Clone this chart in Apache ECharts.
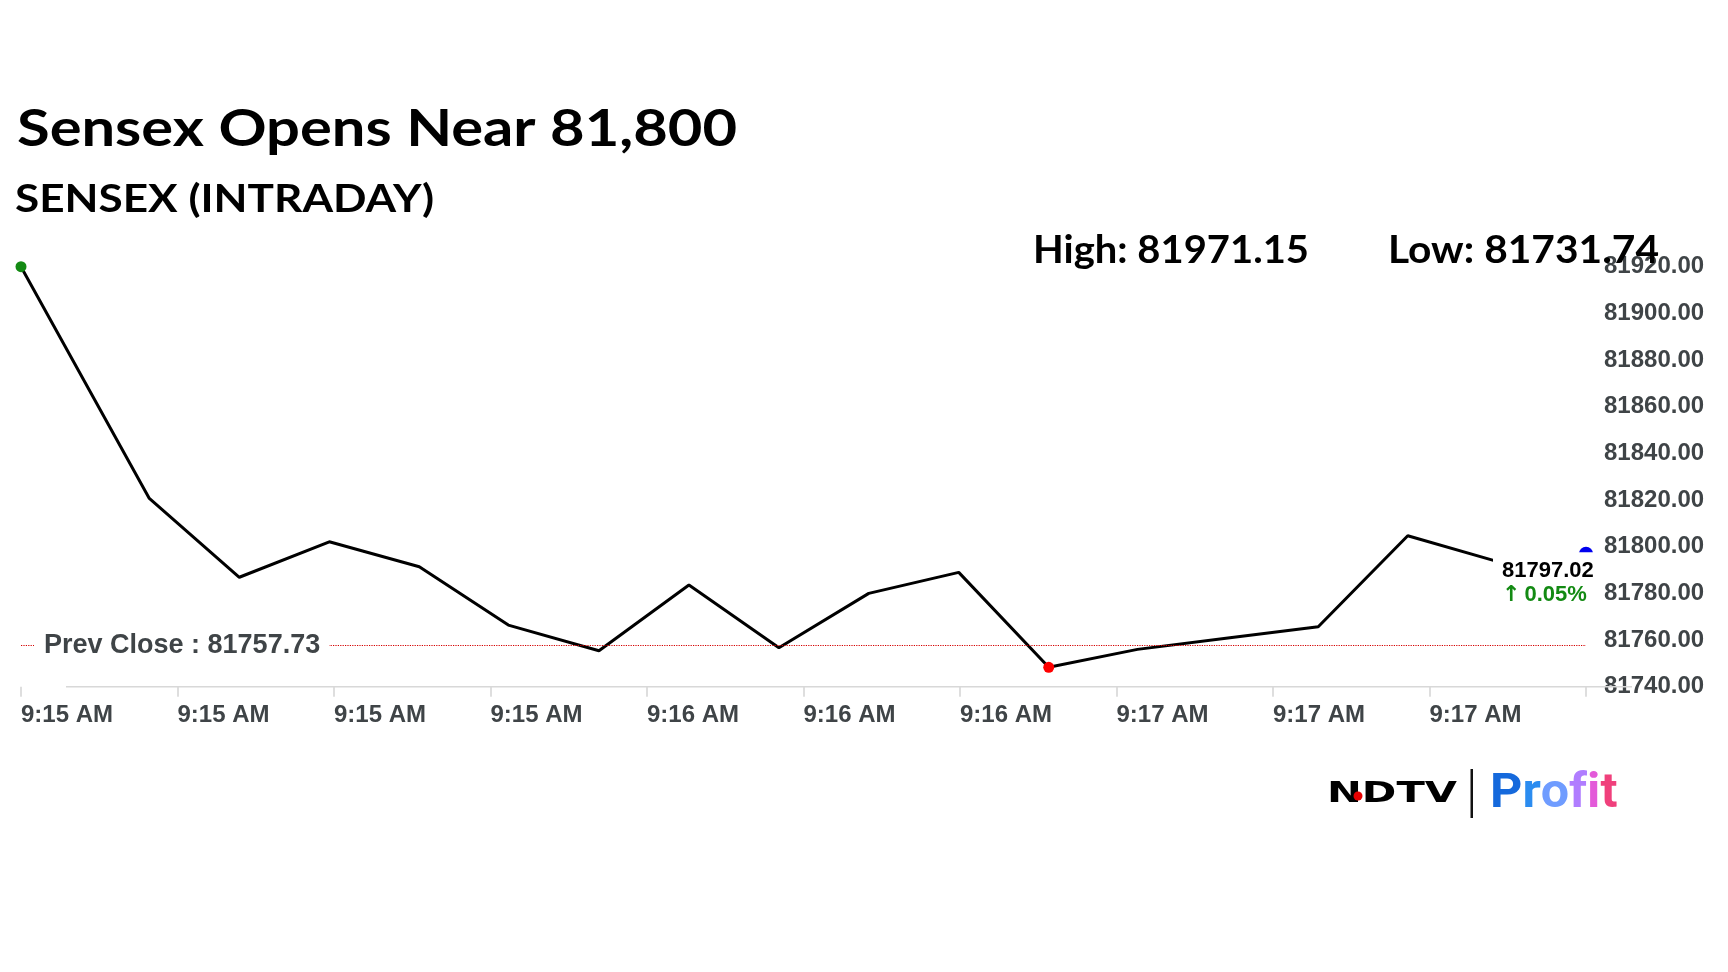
<!DOCTYPE html>
<html><head><meta charset="utf-8">
<script src="https://cdn.jsdelivr.net/npm/echarts@6/dist/echarts.min.js"></script>
<style>html,body{margin:0;padding:0;background:#fff}#c{width:1728px;height:972px}</style>
</head><body><div id="c"></div>
<script>
// ---------- data ----------
const titleText = 'Sensex Opens Near 81,800';
const subtitleText = 'SENSEX (INTRADAY)';
const dayHigh = 81971.15;
const dayLow = 81731.74;
const prevClose = 81757.73;
const tickLabels = ['9:15 AM','9:15 AM','9:15 AM','9:15 AM','9:16 AM','9:16 AM','9:16 AM','9:17 AM','9:17 AM','9:17 AM',''];
// position of each reading along the time axis, in tick units
const pointPos = [0, 0.82, 1.395, 1.97, 2.545, 3.114, 3.693, 4.268, 4.843, 5.417, 5.992, 6.567, 7.134, 7.712, 8.289, 8.861, 9.436, 10];
const values   = [81920.0, 81820.7, 81786.9, 81802.1, 81791.4, 81766.4, 81755.4, 81783.6, 81756.7, 81780.0, 81789.0, 81748.3, 81756.0, 81760.9, 81765.7, 81804.7, 81793.6, 81797.02];
const yMin = 81740, yMax = 81920, yStep = 20;

// ---------- helpers ----------
const mctx = document.createElement('canvas').getContext('2d');
function fit(text, font, target) { mctx.font = font; return target / mctx.measureText(text).width; }

const AX = '"Liberation Sans", Arial, sans-serif';
const labelColor = '#3f4447';
const green = '#138a13';

let lowIdx = 0;
values.forEach((v, i) => { if (v < values[lowIdx]) lowIdx = i; });
const last = values.length - 1;
const pct = (values[last] - prevClose) / prevClose * 100;

const seriesData = pointPos.map((x, i) => {
  const item = { value: [x, values[i]], symbolSize: 0 };
  if (i === 0) { item.symbolSize = 11; item.itemStyle = { color: green }; }
  if (i === lowIdx) { item.symbolSize = 11; item.itemStyle = { color: '#ff0000' }; }
  if (i === last) {
    item.symbolSize = 14; item.itemStyle = { color: '#0000ee' };
    item.label = {
      show: true, position: [-86, 5.5], align: 'left', verticalAlign: 'top',
      backgroundColor: '#fff', padding: [7, 6, 6, 9],
      formatter: '{v|' + values[last].toFixed(2) + '}\n{a|' + (pct >= 0 ? '↑' : '↓') + '}{p|' + Math.abs(pct).toFixed(2) + '%}',
      rich: {
        v: { fontFamily: AX, fontWeight: 'bold', fontSize: 22, lineHeight: 24, color: '#000' },
        a: { fontFamily: '"DejaVu Sans", sans-serif', fontWeight: 'bold', fontSize: 22, lineHeight: 24, color: green },
        p: { fontFamily: AX, fontWeight: 'bold', fontSize: 22, lineHeight: 24, color: green, padding: [0, 0, 0, 4] }
      }
    };
  }
  return item;
});

const titleFont = 'bold 51px Lato';
const subFont = 'bold 39px Lato';
const hiText = 'High: ' + dayHigh.toFixed(2);
const loText = 'Low: ' + dayLow.toFixed(2);
const ndtvFont = 'bold 29px "DejaVu Sans"';
const profitFont = 'bold 48px Roboto';
const profitColors = ['#1569dc', '#2b8cf0', '#6f9cff', '#b07dff', '#e35ad9', '#f0407c'];
const profitRich = {};
profitColors.forEach((c, i) => { profitRich['c' + i] = { fill: c, font: profitFont }; });
const profitText = 'Profit'.split('').map((ch, i) => '{c' + i + '|' + ch + '}').join('');

const chart = echarts.init(document.getElementById('c'), null, { renderer: 'canvas' });
chart.setOption({
  backgroundColor: '#fff',
  animation: false,
  grid: { left: 21, right: 142, top: 266.7, bottom: 285.3, containLabel: false },
  xAxis: {
    type: 'value', min: 0, max: 10, interval: 1,
    axisLine: { show: false },
    axisTick: { show: true, length: 10, lineStyle: { color: '#d4d4d4', width: 1.5 } },
    splitLine: { show: false },
    axisLabel: {
      formatter: v => tickLabels[Math.round(v)] || '',
      align: 'left', margin: 17, fontFamily: AX, fontWeight: 'bold', fontSize: 24, color: labelColor
    }
  },
  yAxis: {
    type: 'value', position: 'right', min: yMin, max: yMax, interval: yStep,
    axisLine: { show: false }, axisTick: { show: false }, splitLine: { show: false },
    axisLabel: { formatter: v => v.toFixed(2), margin: 18, fontFamily: AX, fontWeight: 'bold', fontSize: 24, color: labelColor }
  },
  series: [{
    type: 'line', data: seriesData, symbol: 'circle', showSymbol: true, clip: false,
    lineStyle: { color: '#000', width: 3 }, itemStyle: { color: '#000' },
    emphasis: { disabled: true },
    markLine: {
      silent: true, symbol: 'none',
      lineStyle: { color: '#d40000', type: 'dotted', width: 1.2 },
      label: {
        show: true, position: 'insideStart', distance: 13,
        formatter: 'Prev Close : ' + prevClose.toFixed(2),
        backgroundColor: '#fff', padding: [3, 9, 3, 10],
        fontFamily: AX, fontWeight: 'bold', fontSize: 27, color: labelColor
      },
      data: [{ yAxis: prevClose }]
    }
  }],
  graphic: [
    { type: 'line', z: 1, shape: { x1: 66, y1: 686.7, x2: 1632, y2: 686.7 }, style: { stroke: '#d8d8d8', lineWidth: 1.5 } },
    { type: 'text', z: 100, x: 17, y: 130, scaleX: fit(titleText, titleFont, 720),
      style: { text: titleText, font: titleFont, fill: '#000', align: 'left', verticalAlign: 'middle' } },
    { type: 'text', z: 100, x: 15, y: 199, scaleX: fit(subtitleText, subFont, 419),
      style: { text: subtitleText, font: subFont, fill: '#000', align: 'left', verticalAlign: 'middle' } },
    { type: 'text', z: 100, x: 1033, y: 250, scaleX: fit(hiText, subFont, 276),
      style: { text: hiText, font: subFont, fill: '#000', align: 'left', verticalAlign: 'middle' } },
    { type: 'text', z: 100, x: 1388, y: 250, scaleX: fit(loText, subFont, 271),
      style: { text: loText, font: subFont, fill: '#000', align: 'left', verticalAlign: 'middle' } },
    { type: 'text', z: 100, x: 1327, y: 794, scaleX: fit('NDTV', ndtvFont, 130),
      style: { text: 'NDTV', font: ndtvFont, fill: '#000', align: 'left', verticalAlign: 'middle' } },
    { type: 'circle', z: 101, shape: { cx: 1358, cy: 796, r: 4.5 }, style: { fill: '#e60000' } },
    { type: 'rect', z: 100, shape: { x: 1470.5, y: 769, width: 2.5, height: 49 }, style: { fill: '#111' } },
    { type: 'text', z: 100, x: 1490, y: 795, scaleX: fit('Profit', profitFont, 126),
      style: { text: profitText, rich: profitRich, font: profitFont, align: 'left', verticalAlign: 'middle' } }
  ]
});
</script></body></html>
